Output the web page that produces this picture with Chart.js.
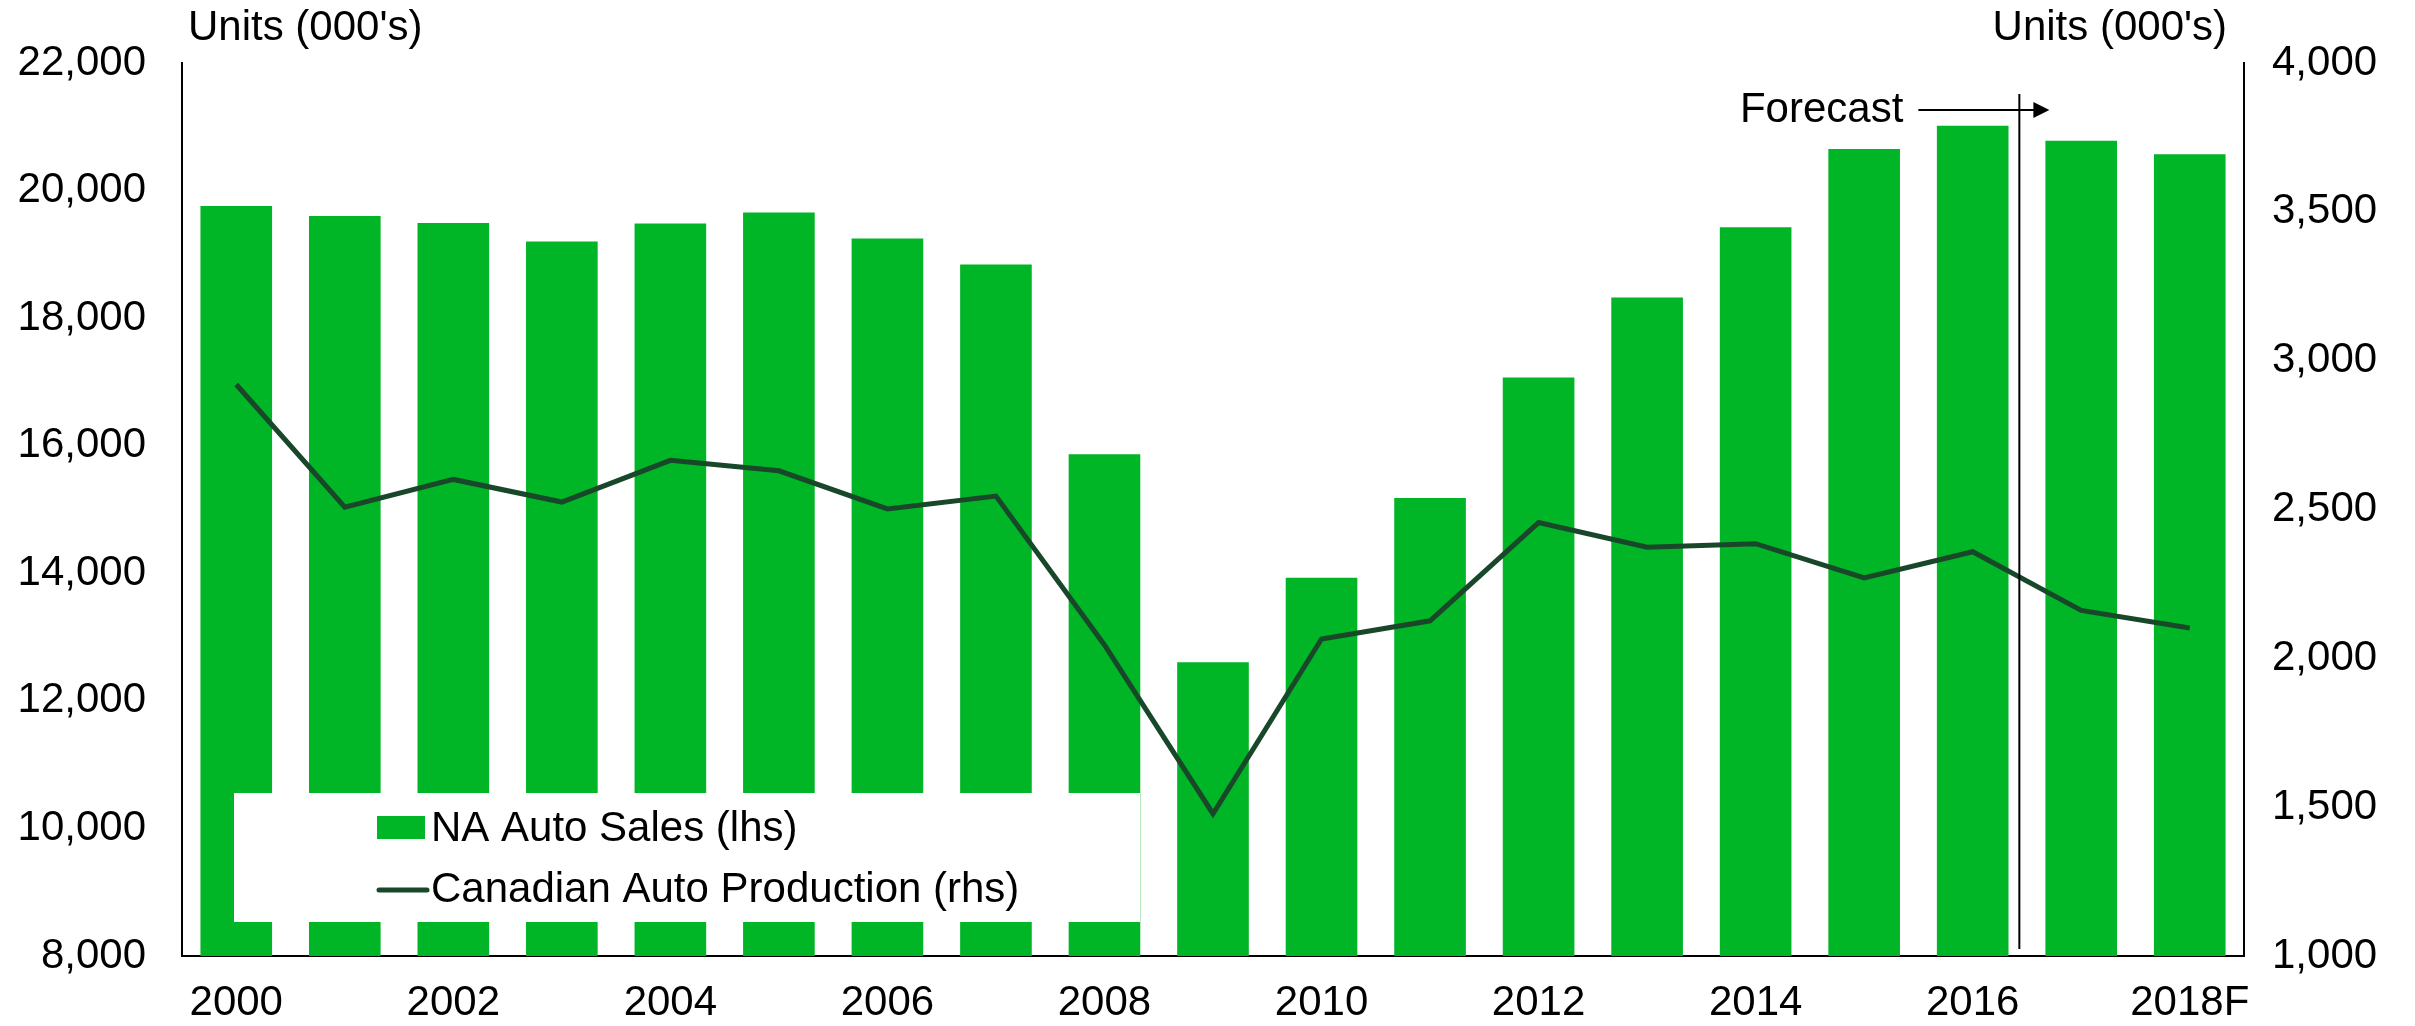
<!DOCTYPE html>
<html>
<head>
<meta charset="utf-8">
<script src="https://cdn.jsdelivr.net/npm/chart.js"></script>
<style>
  html, body { margin: 0; padding: 0; background: #fff; }
  #wrap { width: 2415px; height: 1026px; }
</style>
</head>
<body>
<div id="wrap"><canvas id="chart" width="2415" height="1026"></canvas></div>
<script>
// data
const years = ['2000', '2001', '2002', '2003', '2004', '2005', '2006', '2007', '2008', '2009',
               '2010', '2011', '2012', '2013', '2014', '2015', '2016', '2017', '2018F'];
const naSales = [19760, 19600, 19490, 19200, 19485, 19655, 19250, 18840, 15865, 12605,
                 13930, 15180, 17070, 18325, 19425, 20650, 21015, 20780, 20570];
const canProd = [2920, 2508, 2601, 2525, 2665, 2630, 2502, 2545, 2045, 1478,
                 2065, 2126, 2456, 2373, 2385, 2270, 2358, 2161, 2102];
const leftTicks = [8000, 22000, 2000];   // min, max, step
const rightTicks = [1000, 4000, 500];
const forecastAt = 16.43;               // between 2016 and 2017

const FONT = '"Liberation Sans", Arial, sans-serif';
const BAR_GREEN = '#00b526';
const LINE_GREEN = '#18472a';

Chart.defaults.font.family = FONT;
Chart.defaults.font.size = 42;
Chart.defaults.color = '#000';

// axis titles, forecast marker and the white legend box
const extras = {
  id: 'extras',
  afterDatasetsDraw(chart) {
    const ctx = chart.ctx;
    const ca = chart.chartArea;
    const x = chart.scales.x;
    ctx.save();

    // forecast line + arrow
    const fx = x.getPixelForValue(forecastAt);
    ctx.strokeStyle = '#000';
    ctx.lineWidth = 2;
    ctx.beginPath();
    ctx.moveTo(fx, 94);
    ctx.lineTo(fx, ca.bottom - 7);
    ctx.stroke();
    const ay = 110;
    ctx.beginPath();
    ctx.moveTo(fx - 101, ay);
    ctx.lineTo(fx + 16, ay);
    ctx.stroke();
    ctx.fillStyle = '#000';
    ctx.beginPath();
    ctx.moveTo(fx + 30, ay);
    ctx.lineTo(fx + 14, ay - 8);
    ctx.lineTo(fx + 14, ay + 8);
    ctx.closePath();
    ctx.fill();
    ctx.font = '42px ' + FONT;
    ctx.textAlign = 'right';
    ctx.textBaseline = 'middle';
    ctx.fillText('Forecast', fx - 116, ay);

    // legend box
    const lx = ca.left + 52, ly = 793, lw = 906, lh = 129;
    ctx.fillStyle = '#fff';
    ctx.fillRect(lx, ly, lw, lh);
    const bars = chart.data.datasets[0];
    const line = chart.data.datasets[1];
    ctx.fillStyle = bars.backgroundColor;
    ctx.fillRect(lx + 143, 816, 48, 23);
    ctx.strokeStyle = line.borderColor;
    ctx.lineWidth = 5;
    ctx.lineCap = 'round';
    ctx.beginPath();
    ctx.moveTo(lx + 145, 890);
    ctx.lineTo(lx + 193, 890);
    ctx.stroke();
    ctx.fillStyle = '#000';
    ctx.textAlign = 'left';
    ctx.fillText(bars.label, lx + 197, 829);
    ctx.fillText(line.label, lx + 197, 890);

    // axis titles
    ctx.textAlign = 'left';
    ctx.fillText("Units (000's)", ca.left + 6, 28);
    ctx.textAlign = 'right';
    ctx.fillText("Units (000's)", ca.right - 17, 28);
    ctx.restore();
  }
};

new Chart(document.getElementById('chart'), {
  data: {
    labels: years,
    datasets: [
      {
        type: 'bar',
        label: 'NA Auto Sales (lhs)',
        data: naSales,
        yAxisID: 'y',
        backgroundColor: BAR_GREEN,
        categoryPercentage: 1,
        barPercentage: 0.66,
        order: 1
      },
      {
        type: 'line',
        label: 'Canadian Auto Production (rhs)',
        data: canProd,
        yAxisID: 'y2',
        borderColor: LINE_GREEN,
        backgroundColor: LINE_GREEN,
        borderWidth: 5,
        pointRadius: 0,
        tension: 0,
        order: 0
      }
    ]
  },
  options: {
    responsive: false,
    animation: false,
    layout: { padding: { top: 63, left: 0, right: 0, bottom: 0 } },
    plugins: { legend: { display: false }, tooltip: { enabled: false } },
    scales: {
      x: {
        grid: { display: false, drawTicks: false },
        border: { display: true, color: '#000', width: 2 },
        ticks: {
          padding: 22,
          maxRotation: 0,
          autoSkip: false,
          callback: (v, i) => (i % 2 === 0 ? years[i] : '')
        },
        afterFit: s => { s.height = 70; }
      },
      y: {
        position: 'left',
        min: leftTicks[0],
        max: leftTicks[1],
        grid: { display: false, drawTicks: false },
        border: { display: true, color: '#000', width: 2 },
        ticks: { stepSize: leftTicks[2], padding: 36 },
        afterFit: s => { s.width = 182; }
      },
      y2: {
        position: 'right',
        min: rightTicks[0],
        max: rightTicks[1],
        grid: { display: false, drawTicks: false },
        border: { display: true, color: '#000', width: 2 },
        ticks: { stepSize: rightTicks[2], padding: 28 },
        afterFit: s => { s.width = 171; }
      }
    }
  },
  plugins: [extras]
});
</script>
</body>
</html>
